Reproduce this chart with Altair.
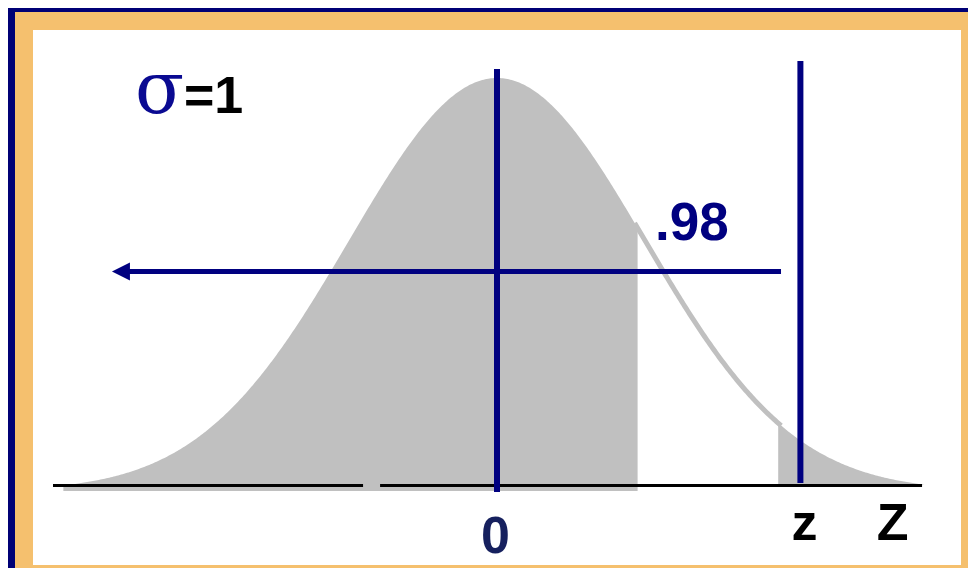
import altair as alt
import numpy as np
import pandas as pd

# ---- values ----
z_grid_step = 0.01
curve_start, curve_end = -2.93, 2.90          # visible extent of the bell curve (z units)
shade_left_end = 0.95                          # grey area up to here
shade_right_start = 1.90                       # grey area again from here
z_crit = 2.05                                  # the "z" line
prob_label = ".98"
sigma_symbol = "σ"
sigma_value = "=1"
zero_label = "0"
z_label = "z"
axis_label = "Z"
baseline_start = [-3.00, -0.79]                # black axis line, two pieces
baseline_end = [-0.905, 2.872]
arrow_from, arrow_to, arrow_head_at = 1.919, -2.514, -2.541
arrow_level = 0.212
zero_line = [-0.001, 0.4076]
crit_line = [0.0077, 0.4153]
right_area_floor = 0.006

# ---- curve (standard normal, sigma = 1) ----
z = np.round(np.arange(curve_start, curve_end + 1e-9, z_grid_step), 3)
pdf = np.exp(-z ** 2 / 2) / np.sqrt(2 * np.pi)
curve = pd.DataFrame({"z": z, "p": pdf})
left = curve[curve.z <= shade_left_end]
right = curve[curve.z >= shade_right_start].assign(floor=right_area_floor)
gap = curve[(curve.z >= shade_left_end - 0.02) & (curve.z <= shade_right_start + 0.02)]

W, H = 960, 560
xs = alt.Scale(domain=[-489 / 148, (W - 489) / 148], nice=False, zero=False)
ys = alt.Scale(domain=[-(H - 483) / 1035.3, 483 / 1035.3], nice=False, zero=False)

NAVY = "#000080"
GREY = "#c0c0c0"
one = pd.DataFrame({"k": [0]})

frame = alt.Chart(one).mark_rect(color="#f5c06e").encode(
    x=alt.value(7), x2=alt.value(W), y=alt.value(4), y2=alt.value(H))
panel = alt.Chart(one).mark_rect(color="white").encode(
    x=alt.value(25), x2=alt.value(953), y=alt.value(22), y2=alt.value(557))

X = lambda f: alt.X(f, scale=xs, axis=None)
Y = lambda f: alt.Y(f, scale=ys, axis=None)

left_area = alt.Chart(left).mark_area(color=GREY, opacity=1).encode(
    x=X("z:Q"), y=Y("p:Q"), y2=alt.datum(0))
right_area = alt.Chart(right).mark_area(color=GREY, opacity=1).encode(
    x=X("z:Q"), y=Y("p:Q"), y2="floor:Q")
gap_line = alt.Chart(gap).mark_line(color=GREY, strokeWidth=5).encode(
    x=X("z:Q"), y=Y("p:Q"))

base_df = pd.DataFrame({"a": baseline_start, "b": baseline_end, "y": [0.0053, 0.0053]})
baseline = alt.Chart(base_df).mark_rule(color="black", strokeWidth=3).encode(
    x=X("a:Q"), x2="b:Q", y=Y("y:Q"))

vlines_df = pd.DataFrame({"x": [0.0, z_crit],
                          "y1": [zero_line[0], crit_line[0]],
                          "y2": [zero_line[1], crit_line[1]]})
vlines = alt.Chart(vlines_df).mark_rule(color=NAVY, strokeWidth=6).encode(
    x=X("x:Q"), y=Y("y1:Q"), y2="y2:Q")

arrow_df = pd.DataFrame({"a": [arrow_from], "b": [arrow_to], "y": [arrow_level]})
arrow = alt.Chart(arrow_df).mark_rule(color=NAVY, strokeWidth=5).encode(
    x=X("a:Q"), x2="b:Q", y=Y("y:Q"))
head_df = pd.DataFrame({"x": [arrow_head_at], "y": [arrow_level]})
head = alt.Chart(head_df).mark_point(
    shape="M-1,0L1,-1L1,1Z", size=324, filled=True, color=NAVY, opacity=1, strokeWidth=0
).encode(x=X("x:Q"), y=Y("y:Q"))

def label(text, x, y, size, color, font="Liberation Sans", align="center", bold=True):
    return alt.Chart(one).mark_text(
        text=text, font=font, fontSize=size, fontWeight="bold" if bold else "normal",
        color=color, align=align, baseline="alphabetic"
    ).encode(x=alt.value(x), y=alt.value(y))

texts = [
    label(sigma_symbol, 127, 105, 72, "#0a0a92", font="DejaVu Serif", align="left", bold=False),
    label(sigma_value, 176, 105, 52, "black", align="left"),
    label(prob_label, 647, 232, 53, NAVY, align="left"),
    label(zero_label, 487.5, 545, 52, "#16205e"),
    label(z_label, 796.5, 532, 52, "black"),
    label(axis_label, 884.5, 532, 52, "black"),
]

chart = alt.layer(
    frame, panel, left_area, right_area, gap_line, baseline, vlines, arrow, head, *texts
).properties(
    width=W, height=H, padding=0, background="#000075",
    autosize=alt.AutoSizeParams(type="none"),
).configure_view(stroke=None)

chart.save("out.html", embed_options={"renderer": "svg", "actions": False})
